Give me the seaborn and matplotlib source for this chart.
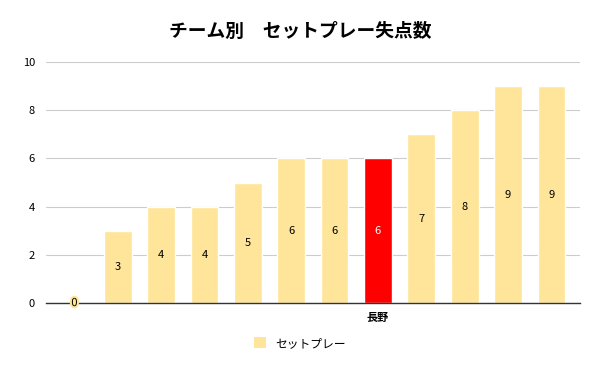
import matplotlib
matplotlib.use('Agg')
import matplotlib.pyplot as plt
import matplotlib.patheffects as pe
from matplotlib.patches import Patch
import seaborn as sns

# data
teams = ['t1', 't2', 't3', 't4', 't5', 't6', 't7', '長野', 't9', 't10', 't11', 't12']
tick_labels = ['', '', '', '', '', '', '', '長野', '', '', '', '']
goals_conceded = [0, 3, 4, 4, 5, 6, 6, 6, 7, 8, 9, 9]
highlight = '長野'
series_name = 'セットプレー'
title = 'チーム別　セットプレー失点数'

base_color = '#FFE599'
hi_color = '#FF0000'

sns.set_theme(style='white')
plt.rcParams['font.family'] = ['Noto Sans CJK JP', 'DejaVu Sans']
plt.rcParams['text.color'] = 'black'

colors = [hi_color if t == highlight else base_color for t in teams]

fig = plt.figure(figsize=(6, 3.71), dpi=100)
ax = fig.add_axes([0.077, 0.183, 0.889, 0.65])

sns.barplot(x=list(range(len(teams))), y=goals_conceded, hue=list(range(len(teams))),
            palette=colors, legend=False, width=0.64, saturation=1, ax=ax)

ax.set_ylim(0, 10)
ax.set_yticks([0, 2, 4, 6, 8, 10])
ax.yaxis.grid(True, color='#CCCCCC', linewidth=0.8)
ax.set_axisbelow(True)
for s in ['top', 'right', 'left']:
    ax.spines[s].set_visible(False)
ax.spines['bottom'].set_color('#333333')
ax.spines['bottom'].set_linewidth(1)
ax.tick_params(axis='y', length=0, labelsize=8, colors='black', pad=8)
ax.set_xticks(range(len(teams)), tick_labels)
ax.tick_params(axis='x', length=0, labelsize=8, colors='black', pad=6)
for lbl in ax.get_xticklabels():
    lbl.set_fontweight('bold')
ax.set_xlim(-0.65, len(teams) - 0.35)
ax.set_xlabel('')
ax.set_ylabel('')

# value labels in the middle of each bar
for i, (t, v) in enumerate(zip(teams, goals_conceded)):
    c = 'white' if t == highlight else 'black'
    txt = ax.text(i, v / 2, str(v), ha='center', va='center', fontsize=8, color=c)
    if v == 0:
        txt.set_path_effects([pe.withStroke(linewidth=3, foreground=base_color)])

fig.suptitle(title, fontsize=13.5, fontweight='bold', color='black', y=0.94)

fig.legend(handles=[Patch(facecolor=base_color, edgecolor='none', label=series_name)],
           loc='center', bbox_to_anchor=(0.5, 0.075), frameon=False, fontsize=8.5,
           handlelength=1.0, handleheight=1.0, handletextpad=0.8, labelcolor='black')

fig.savefig('out.png', dpi=100)
